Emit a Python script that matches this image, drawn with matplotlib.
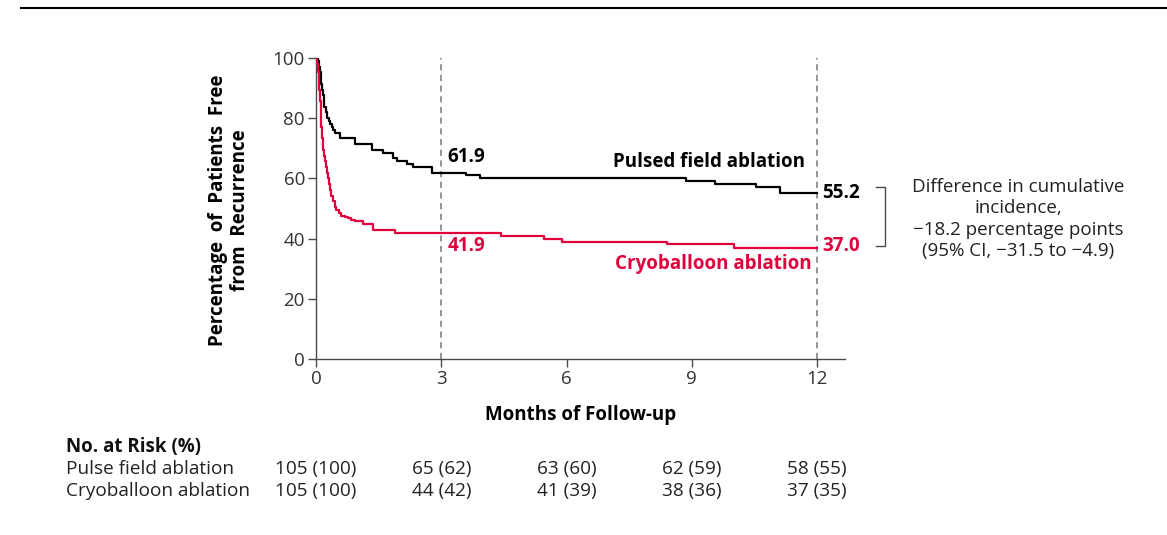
import matplotlib.pyplot as plt
from matplotlib import font_manager

# Kaplan-Meier style step data
pfa_t = [0, 0.05, 0.08, 0.10, 0.11, 0.12, 0.14, 0.16, 0.18, 0.20, 0.23, 0.27, 0.31, 0.34,
         0.38, 0.41, 0.45, 0.57, 0.93, 1.33, 1.60, 1.85, 1.95, 2.17, 2.33, 2.77, 3.60, 3.93,
         8.87, 9.55, 10.55, 11.12, 12.0]
pfa_v = [100, 99.0, 97.1, 95.2, 93.3, 91.4, 89.5, 87.6, 85.7, 83.8, 81.9, 80.0, 79.0, 78.1,
         77.1, 76.2, 75.2, 73.3, 71.4, 69.5, 68.6, 66.7, 65.7, 64.8, 63.8, 61.9, 61.0, 60.0,
         59.0, 58.1, 57.1, 55.2, 55.2]

cryo_t = [0, 0.03, 0.05, 0.07, 0.08, 0.10, 0.12, 0.13, 0.15, 0.17, 0.19, 0.21, 0.24, 0.26,
          0.28, 0.30, 0.33, 0.37, 0.41, 0.45, 0.49, 0.55, 0.61, 0.70, 0.77, 0.85, 0.93, 1.13,
          1.37, 1.90, 4.43, 5.46, 5.88, 8.40, 10.0, 12.0]
cryo_v = [100, 98.1, 95.2, 92.4, 89.5, 85.7, 81.9, 77.1, 73.3, 69.5, 67.6, 65.7, 63.8, 61.9,
          60.0, 58.1, 56.2, 54.3, 52.4, 50.5, 49.5, 48.6, 47.6, 47.1, 46.7, 46.2, 45.7, 44.8,
          42.9, 41.9, 41.0, 40.0, 39.0, 38.1, 37.0, 37.0]

xticks = [0, 3, 6, 9, 12]
yticks = [0, 20, 40, 60, 80, 100]
risk_pfa = ["105 (100)", "65 (62)", "63 (60)", "62 (59)", "58 (55)"]
risk_cryo = ["105 (100)", "44 (42)", "41 (39)", "38 (36)", "37 (35)"]

RED = "#E0003C"
GRAY = "#4a4a4a"

names = {f.name for f in font_manager.fontManager.ttflist}
narrow = "Liberation Sans Narrow" if "Liberation Sans Narrow" in names else "Open Sans"
plt.rcParams["font.family"] = ["Open Sans", "DejaVu Sans"]

fig = plt.figure(figsize=(11.67, 5.35), dpi=100)
ax = fig.add_axes([316 / 1167, 1 - 359 / 535, (845 - 316) / 1167, (359 - 58) / 535])

ax.step(pfa_t, pfa_v, where="post", color="black", lw=1.6, zorder=3)
ax.step(cryo_t, cryo_v, where="post", color=RED, lw=1.6, zorder=3)

for xv in [3, 12]:
    ax.plot([xv, xv], [0, 100], color="#777777", lw=1.1, ls=(0, (4, 3)), zorder=2)

ax.set_xlim(0, 12.67)
ax.set_ylim(0, 100)
ax.set_xticks(xticks)
ax.set_yticks(yticks)
ax.tick_params(axis="both", colors=GRAY, labelcolor="#333333", labelsize=13.5,
               length=6, width=1, pad=2)
ax.spines["top"].set_visible(False)
ax.spines["right"].set_visible(False)
for s in ["left", "bottom"]:
    ax.spines[s].set_color(GRAY)
    ax.spines[s].set_linewidth(1)

ax.set_xlabel("Months of Follow-up", fontsize=13.5, fontweight="bold", labelpad=12)
fig.text(229 / 1167, 1 - 210 / 535, "Percentage  of  Patients  Free\nfrom  Recurrence",
         rotation=90, ha="center", va="center", fontsize=13.5, fontweight="bold",
         linespacing=1.12)

# curve annotations
ax.text(3.15, 61.9 + 2.0, "61.9", fontsize=13.5, fontweight="bold", color="black", va="bottom")
ax.text(3.15, 41.9 - 1.2, "41.9", fontsize=13.5, fontweight="bold", color=RED, va="top")
ax.text(11.7, 62.0, "Pulsed field ablation", fontsize=13.5, fontweight="bold", color="black",
        ha="right", va="bottom")
ax.text(11.88, 35.0, "Cryoballoon ablation", fontsize=13.5, fontweight="bold", color=RED,
        ha="right", va="top")
ax.text(12.12, 55.2, "55.2", fontsize=13.5, fontweight="bold", color="black", va="center")
ax.text(12.12, 37.4, "37.0", fontsize=13.5, fontweight="bold", color=RED, va="center")

# bracket and difference note
bx0, bx1 = 876 / 1167, 885 / 1167
by0, by1 = 1 - 187 / 535, 1 - 246 / 535
fig.add_artist(plt.Line2D([bx0, bx1, bx1, bx0], [by0, by0, by1, by1], color=GRAY, lw=1))
fig.text(1018 / 1167, 1 - 219 / 535,
         "Difference in cumulative\nincidence,\n\u221218.2 percentage points\n(95% CI, \u221231.5 to \u22124.9)",
         ha="center", va="center", fontsize=13.5, color="#222222", linespacing=1.22)

# top rule
fig.add_artist(plt.Line2D([21 / 1167, 1], [1 - 8 / 535, 1 - 8 / 535], color="black", lw=1.5))

# numbers at risk
fig.text(66 / 1167, 1 - 447 / 535, "No. at Risk (%)", fontsize=13.5, fontweight="bold",
         family=[narrow, "DejaVu Sans"], va="center", color="#111111")
for row, (label, vals) in enumerate([("Pulse field ablation", risk_pfa),
                                     ("Cryoballoon ablation", risk_cryo)]):
    y = 1 - (469 + 22 * row) / 535
    fig.text(66 / 1167, y, label, fontsize=13.7, family=[narrow, "DejaVu Sans"],
             va="center", color="#222222")
    for xv, txt in zip(xticks, vals):
        xf = ax.transData.transform((xv, 0))[0] / fig.bbox.width
        fig.text(xf, y, txt, fontsize=13.7, family=[narrow, "DejaVu Sans"],
                 ha="center", va="center", color="#222222")

fig.savefig("out.png", dpi=100)
